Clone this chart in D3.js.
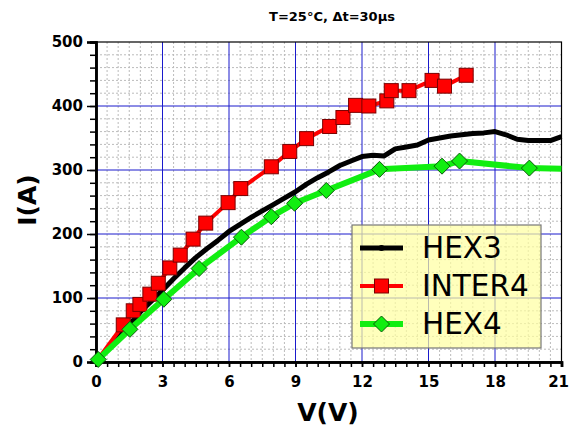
<!DOCTYPE html>
<html>
<head>
<meta charset="utf-8">
<script src="https://cdn.jsdelivr.net/npm/d3@7"></script>
<style>
  body { margin: 0; background: #fff; }
  text { font-family: 'DejaVu Sans', sans-serif; }
</style>
</head>
<body>
<div id="chart"></div>
<script>
var title = 'T=25°C, Δt=30µs'
var xTicks = [0, 3, 6, 9, 12, 15, 18, 21]
var yTicks = [0, 100, 200, 300, 400, 500]

var hex3V = [0, 1, 2, 3, 3.5, 4, 4.5, 5, 5.5, 6, 6.5, 7, 7.5, 8, 8.5, 9, 9.5, 10, 10.5, 11, 11.5, 12, 12.5, 13, 13.5, 14, 14.5, 15, 15.5, 16, 16.5, 17, 17.5, 18, 18.5, 19, 19.5, 20, 20.5, 21]
var hex3I = [0, 38, 78, 112, 130, 147, 163, 177, 190, 204, 215, 226, 236, 246, 256, 266, 278, 288, 297, 307, 314, 321, 323, 322, 333, 336, 339, 347, 350, 353, 355, 357, 358, 360, 355, 348, 346, 346, 346, 352]

var inter4V = [0, 1.23, 1.68, 1.98, 2.43, 2.81, 3.33, 3.8, 4.38, 4.95, 5.96, 6.53, 7.91, 8.74, 9.5, 10.54, 11.14, 11.71, 12.31, 13.12, 13.32, 14.12, 15.16, 15.72, 16.7]
var inter4I = [0, 58, 80, 90, 106, 123, 147, 167, 192, 217, 249, 271, 305, 329, 349, 368, 382, 401, 400, 408, 424, 424, 440, 431, 448]

var hex4V = [0.1, 1.53, 3.06, 4.65, 6.56, 7.91, 8.96, 10.39, 12.79, 15.61, 16.4, 19.55, 21]
var hex4I = [4, 51, 98, 146, 195, 227, 248, 268, 301, 306, 314, 303, 302]

var series = [
  {name: 'HEX3', v: hex3V, i: hex3I, color: '#000', width: 5, marker: 'dot'},
  {name: 'INTER4', v: inter4V, i: inter4I, color: '#ff0000', width: 4, marker: 'square'},
  {name: 'HEX4', v: hex4V, i: hex4I, color: '#11ee11', width: 6, marker: 'diamond'}
]

var W = 569, H = 426
var m = {left: 96, right: 7.5, top: 42, bottom: 64}
var w = W - m.left - m.right, h = H - m.top - m.bottom

var svg = d3.select('#chart').append('svg').attr('width', W).attr('height', H)
var g = svg.append('g').attr('transform', 'translate(' + m.left + ',' + m.top + ')')

var x = d3.scaleLinear().domain([0, 21]).range([0, w])
var y = d3.scaleLinear().domain([0, 500]).range([h, 0])

// minor grid
g.append('g').selectAll('line').data(d3.range(0.5, 21, 0.5).filter(d => d % 3))
  .join('line')
  .attr('x1', d => x(d)).attr('x2', d => x(d)).attr('y1', 0).attr('y2', h)
  .attr('stroke', '#bbb').attr('stroke-dasharray', '2,2')
g.append('g').selectAll('line').data(d3.range(20, 500, 20).filter(d => d % 100))
  .join('line')
  .attr('y1', d => y(d)).attr('y2', d => y(d)).attr('x1', 0).attr('x2', w)
  .attr('stroke', '#bbb').attr('stroke-dasharray', '2,2')

// major grid
g.append('g').selectAll('line').data(xTicks.slice(1, -1))
  .join('line')
  .attr('x1', d => x(d)).attr('x2', d => x(d)).attr('y1', 0).attr('y2', h)
  .attr('stroke', '#1a1acc')
g.append('g').selectAll('line').data(yTicks.slice(1, -1))
  .join('line')
  .attr('y1', d => y(d)).attr('y2', d => y(d)).attr('x1', 0).attr('x2', w)
  .attr('stroke', '#1a1acc')

g.append('rect').attr('width', w).attr('height', h)
  .attr('fill', 'none').attr('stroke', '#000').attr('stroke-width', 1.2)

// axes
var xMinor = g.append('g').attr('transform', 'translate(0,' + h + ')')
  .call(d3.axisBottom(x).tickValues(d3.range(0, 21.01, 0.5)).tickSize(5).tickFormat(''))
var xAxis = g.append('g').attr('transform', 'translate(0,' + h + ')')
  .call(d3.axisBottom(x).tickValues(xTicks).tickSize(5).tickPadding(9))
var yMinor = g.append('g')
  .call(d3.axisLeft(y).tickValues(d3.range(0, 501, 20)).tickSize(6).tickFormat(''))
var yAxis = g.append('g')
  .call(d3.axisLeft(y).tickValues(yTicks).tickSize(9).tickPadding(4))

;[xMinor, xAxis, yMinor, yAxis].forEach(a => {
  a.selectAll('.domain').attr('stroke-width', 2.5)
  a.selectAll('.tick line').attr('stroke-width', 1.5)
  a.selectAll('text').attr('font-size', 15).attr('font-weight', 'bold')
    .attr('font-family', "'DejaVu Sans', sans-serif").attr('fill', '#000')
})
// last label sits against the page edge
xAxis.selectAll('.tick text').filter(d => d == 21).attr('text-anchor', 'end').attr('dx', 7)

// series
var line = d3.line().x(d => x(d[0])).y(d => y(d[1]))
var plot = g.append('g')

function marker(sel, type, color) {
  if (type == 'square') {
    sel.append('rect').attr('x', -7).attr('y', -7).attr('width', 14).attr('height', 14)
      .attr('fill', color).attr('stroke', '#7a0000').attr('stroke-width', 1)
  } else if (type == 'diamond') {
    sel.append('path').attr('d', 'M0,-8L8,0L0,8L-8,0Z')
      .attr('fill', color).attr('stroke', '#0a5a0a').attr('stroke-width', 1)
  } else {
    sel.append('circle').attr('r', 3).attr('fill', color)
  }
}

series.forEach(s => {
  var pts = s.v.map((v, k) => [v, s.i[k]])
  plot.append('path').attr('d', line(pts))
    .attr('fill', 'none').attr('stroke', s.color).attr('stroke-width', s.width)
    .attr('stroke-linejoin', 'round')
  if (s.marker == 'dot') return
  pts.filter(p => p[0] > 0 && p[0] < 21).forEach(p => {
    marker(plot.append('g').attr('transform', 'translate(' + x(p[0]) + ',' + y(p[1]) + ')'), s.marker, s.color)
  })
})

// legend
var lg = g.append('g').attr('transform', 'translate(' + (352 - m.left) + ',' + (225 - m.top) + ')')
lg.append('rect').attr('width', 189).attr('height', 123)
  .attr('fill', 'rgb(255,255,160)').attr('fill-opacity', 0.7)
  .attr('stroke', '#777').attr('stroke-width', 1.2)
series.forEach((s, k) => {
  var ly = 23 + k * 38
  lg.append('line').attr('x1', 8).attr('x2', 51).attr('y1', ly).attr('y2', ly)
    .attr('stroke', s.color).attr('stroke-width', s.width)
  marker(lg.append('g').attr('transform', 'translate(29.5,' + ly + ')'), s.marker, s.color)
  lg.append('text').attr('x', 70).attr('y', ly + 10).text(s.name)
    .attr('font-size', 29.5)
})

// labels
svg.append('text').attr('x', 332).attr('y', 21).attr('text-anchor', 'middle')
  .attr('font-size', 13).attr('font-weight', 'bold').text(title)
svg.append('text').attr('x', 328).attr('y', 421).attr('text-anchor', 'middle')
  .attr('font-size', 25).attr('font-weight', 'bold').text('V(V)')
svg.append('text').attr('transform', 'translate(36,200) rotate(-90)').attr('text-anchor', 'middle')
  .attr('font-size', 25).attr('font-weight', 'bold').text('I(A)')
</script>
</body>
</html>
